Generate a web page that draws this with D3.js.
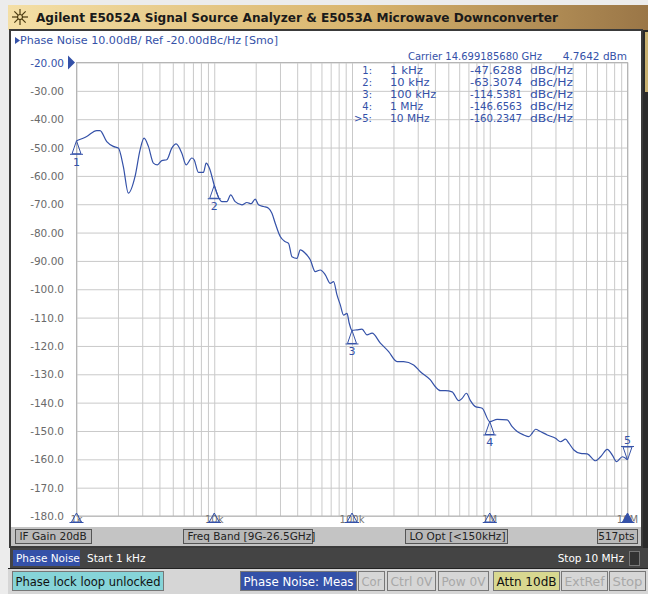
<!DOCTYPE html>
<meta charset="utf-8">
<style>
  body { margin: 0; background: #ececec; }
  text { font-family: "DejaVu Sans", sans-serif; }
</style>
<svg width="648" height="594"></svg>
<script src="https://d3js.org/d3.v7.min.js"></script>
<script>
// trace: offset frequency (Hz) and phase noise (dBc/Hz)
var freqs = [1000, 1186, 1402, 1482, 1658, 1851, 2013, 2188, 2379, 2661, 2894, 3094, 3326, 3615, 3866,
  4161, 4524, 4918, 5286, 5815, 6248, 6874, 7143, 7677, 8346, 8733, 9228, 10000, 10445, 11356,
  12350, 13156, 14190, 15870, 17260, 18540, 19830, 20960, 22790, 24770, 26220, 27710, 30130, 32760,
  34620, 36640, 39840, 42110, 45780, 49770, 54120, 58840, 63970, 69560, 73500, 77800, 82220, 86900,
  91960, 95500, 100000, 108700, 118200, 128500, 139800, 160600, 184500, 212300, 237100, 280300,
  313600, 370700, 403100, 438300, 476600, 533000, 595300, 630200, 677000, 723800, 787000, 880700,
  1000000, 1132000, 1338000, 1455000, 1582000, 1767000, 1920000, 2033000, 2148000, 2336000,
  2614000, 3003000, 3265000, 3549000, 3751000, 4079000, 4562000, 5104000, 5866000, 6377000,
  7133000, 7755000, 8332000, 9168000, 10000000];
var noise = [-47.6, -46.1, -44.0, -44.0, -47.9, -49.6, -50.2, -56.7, -66.1, -60.2, -50.8, -46.7, -49.6, -55.5, -56.1,
  -54.6, -54.3, -50.2, -48.7, -52.0, -56.1, -53.7, -54.3, -58.8, -58.8, -55.5, -57.3, -63.3, -66.1, -69.1,
  -69.1, -66.7, -69.1, -70.2, -69.4, -69.8, -68.2, -70.2, -70.8, -71.4, -73.2, -76.7, -81.4, -83.2,
  -83.8, -88.5, -89.1, -86.1, -87.3, -89.6, -93.8, -93.2, -94.9, -97.9, -97.3, -102.0, -105.5, -109.1,
  -108.5, -112.0, -114.5, -114.3, -114.1, -116.1, -115.5, -119.0, -122.0, -125.5, -125.5, -126.7,
  -129.1, -132.0, -134.4, -135.8, -135.8, -136.2, -139.3, -138.5, -136.7, -139.3, -141.4, -142.0,
  -146.7, -145.9, -146.1, -148.5, -150.2, -151.4, -152.0, -150.8, -149.4, -150.2,
  -151.4, -152.6, -153.8, -152.9, -154.3, -156.7, -157.9, -158.1, -160.5, -159.1,
  -156.5, -158.5, -160.8, -159.1, -160.2];

var markerFreqs = [1e3, 1e4, 1e5, 1e6, 1e7];
var markerVals = [-47.6288, -63.3074, -114.5381, -146.6563, -160.2347];
var markerNames = ["1 kHz", "10 kHz", "100 kHz", "1 MHz", "10 MHz"];
var xTickLabels = ["1k", "10k", "100k", "1M", "10M"];
var yTicks = d3.range(-180, -19, 10);

var svg = d3.select("svg");
var blue = "#3451a8";
var loc = d3.formatLocale({ decimal: ".", thousands: ",", grouping: [3], currency: ["", ""], minus: "-" });

// header band
var grad = svg.append("defs").append("linearGradient").attr("id", "hdr");
grad.append("stop").attr("offset", "0%").attr("stop-color", "#f4dfa6");
grad.append("stop").attr("offset", "55%").attr("stop-color", "#d9b56e");
grad.append("stop").attr("offset", "100%").attr("stop-color", "#9a7647");
svg.append("rect").attr("x", 8).attr("y", 5).attr("width", 640).attr("height", 25).attr("fill", "url(#hdr)");
// little sun icon
var sun = svg.append("g").attr("transform", "translate(20,17)").attr("stroke", "#4a3a10").attr("stroke-width", 1.2);
d3.range(8).forEach(function (i) {
  var a = i * Math.PI / 4;
  sun.append("line").attr("x1", 3 * Math.cos(a)).attr("y1", 3 * Math.sin(a))
    .attr("x2", 8 * Math.cos(a)).attr("y2", 8 * Math.sin(a));
});
sun.append("circle").attr("r", 2.5).attr("fill", "none");
svg.append("text").attr("x", 36).attr("y", 22).attr("font-size", 13).attr("font-weight", "bold")
  .attr("fill", "#1a1a1a").attr("textLength", 522).attr("lengthAdjust", "spacingAndGlyphs")
  .text("Agilent E5052A Signal Source Analyzer & E5053A Microwave Downconverter");

// right side dark strip
svg.append("rect").attr("x", 642).attr("y", 30).attr("width", 6).attr("height", 540).attr("fill", "#2a2a2a");
svg.append("rect").attr("x", 645).attr("y", 32).attr("width", 3).attr("height", 60).attr("fill", "#c8b070");

// main panel
svg.append("rect").attr("x", 10).attr("y", 30).attr("width", 632).attr("height", 517)
  .attr("fill", "#fff").attr("stroke", "#3a3a3a").attr("stroke-width", 2);

svg.append("path").attr("d", "M15,37 L20,40.5 L15,44 Z").attr("fill", blue);
svg.append("text").attr("x", 20).attr("y", 44).attr("font-size", 10.5).attr("fill", blue)
  .attr("textLength", 258).attr("lengthAdjust", "spacingAndGlyphs")
  .text("Phase Noise 10.00dB/ Ref -20.00dBc/Hz [Smo]");

var x = d3.scaleLog().domain([1e3, 1e7]).range([76.5, 627.5]);
var y = d3.scaleLinear().domain([-180, -20]).range([516, 62.5]);

// grid via axes
var gx = svg.append("g").attr("transform", "translate(0,516)")
  .call(d3.axisBottom(x).tickValues(x.ticks()).tickSize(-453.5).tickFormat(""));
gx.selectAll("line").attr("stroke", "#c9c9c9");
gx.select(".domain").remove();
var gy = svg.append("g").attr("transform", "translate(76.5,0)")
  .call(d3.axisLeft(y).tickValues(yTicks).tickSize(-551).tickFormat(""));
gy.selectAll("line").attr("stroke", "#c9c9c9");
gy.select(".domain").remove();
svg.append("rect").attr("x", 76.5).attr("y", 62.5).attr("width", 551).attr("height", 453.5)
  .attr("fill", "none").attr("stroke", "#b5b5b5");

// y labels
var fmt = loc.format(".4r");
svg.append("g").selectAll("text").data(yTicks).enter().append("text")
  .attr("x", 64).attr("y", function (d) { return y(d) + 4; })
  .attr("text-anchor", "end").attr("font-size", 10.5)
  .attr("fill", function (d) { return d === -20 ? blue : "#6a6a6a"; })
  .text(function (d) { return fmt(d); });
svg.append("path").attr("d", "M68,55.5 L75,62.5 L68,69.5 Z").attr("fill", blue);

// x labels with stimulus markers
svg.append("g").selectAll("text").data(markerFreqs).enter().append("text")
  .attr("x", function (d) { return x(d); }).attr("y", 523)
  .attr("text-anchor", "middle").attr("font-size", 10).attr("fill", "#777")
  .text(function (d, i) { return xTickLabels[i]; });
svg.append("g").selectAll("path").data(markerFreqs).enter().append("path")
  .attr("d", function (d) { var cx = x(d); return "M" + (cx - 5) + ",522 L" + cx + ",513 L" + (cx + 5) + ",522 Z M" + (cx - 7) + ",522.5 H" + (cx + 7); })
  .attr("fill", function (d, i) { return i === 4 ? blue : "none"; })
  .attr("stroke", blue).attr("stroke-width", 1);

// trace
var line = d3.line().curve(d3.curveMonotoneX)
  .x(function (d) { return x(d[0]); }).y(function (d) { return y(d[1]); });
svg.append("path").datum(d3.zip(freqs, noise)).attr("d", line)
  .attr("fill", "none").attr("stroke", blue).attr("stroke-width", 1.2);

// markers on trace
markerFreqs.forEach(function (f, i) {
  var cx = x(f), cy = y(markerVals[i]);
  var s = i < 4 ? 1 : -1;
  svg.append("path")
    .attr("d", "M" + (cx - 4.5) + "," + (cy + s * 13) + " L" + cx + "," + cy + " L" + (cx + 4.5) + "," + (cy + s * 13) + " Z M" + (cx - 6.5) + "," + (cy + s * 13.5) + " H" + (cx + 6.5))
    .attr("stroke", blue).attr("fill", "none").attr("stroke-width", 1);
  svg.append("text").attr("x", cx).attr("y", i < 4 ? cy + 25 : cy - 16).attr("text-anchor", "middle")
    .attr("font-size", 11).attr("fill", blue).text(i + 1);
});

// marker table
svg.append("text").attr("x", 408).attr("y", 60).attr("font-size", 10.5).attr("fill", blue)
  .attr("textLength", 134).attr("lengthAdjust", "spacingAndGlyphs").text("Carrier 14.699185680 GHz");
svg.append("text").attr("x", 627).attr("y", 60).attr("font-size", 10.5).attr("fill", blue)
  .attr("text-anchor", "end").text("4.7642 dBm");
var rows = svg.append("g").attr("font-family", "DejaVu Sans Mono").attr("font-size", 10).attr("fill", blue);
var vfmt = loc.format(".4f");
markerVals.forEach(function (v, i) {
  var ry = 74 + i * 12;
  rows.append("text").attr("x", 372).attr("y", ry).attr("text-anchor", "end").text((i === 4 ? ">" : "") + (i + 1) + ":");
  rows.append("text").attr("x", 390).attr("y", ry).attr("textLength", markerNames[i].length * 6.6)
    .attr("lengthAdjust", "spacingAndGlyphs").text(markerNames[i]);
  rows.append("text").attr("x", 522).attr("y", ry).attr("text-anchor", "end").attr("textLength", 52)
    .attr("lengthAdjust", "spacingAndGlyphs").text(vfmt(v));
  rows.append("text").attr("x", 530).attr("y", ry).attr("textLength", 43)
    .attr("lengthAdjust", "spacingAndGlyphs").text("dBc/Hz");
});

// softkey bar
svg.append("rect").attr("x", 11).attr("y", 527).attr("width", 630).attr("height", 19).attr("fill", "#c4c4c4");
function button(x0, y0, w, h, label, bg, fg, anchor) {
  svg.append("rect").attr("x", x0).attr("y", y0).attr("width", w).attr("height", h)
    .attr("fill", bg).attr("stroke", "#555").attr("stroke-width", 1);
  svg.append("text").attr("x", anchor === "end" ? x0 + w - 3 : x0 + 4).attr("y", y0 + h - 4)
    .attr("text-anchor", anchor === "end" ? "end" : "start")
    .attr("font-size", 10.5).attr("fill", fg).text(label);
}
button(15.5, 529.5, 76, 14, "IF Gain 20dB", "#b9b9b9", "#222");
button(183.5, 529.5, 129, 14, "Freq Band [9G-26.5GHz]", "#b9b9b9", "#222");
button(405.5, 529.5, 102, 14, "LO Opt [<150kHz]", "#b9b9b9", "#222");
button(597.5, 529.5, 40, 14, "517pts", "#b9b9b9", "#222", "end");

// channel status bar
svg.append("rect").attr("x", 10).attr("y", 548).attr("width", 638).attr("height", 20).attr("fill", "#444");
svg.append("rect").attr("x", 13).attr("y", 550).attr("width", 67).attr("height", 16).attr("fill", "#3451a8");
svg.append("text").attr("x", 16).attr("y", 562).attr("font-size", 10.5).attr("fill", "#fff").text("Phase Noise");
svg.append("text").attr("x", 87).attr("y", 562).attr("font-size", 10.5).attr("fill", "#fff").text("Start 1 kHz");
svg.append("text").attr("x", 624).attr("y", 562).attr("font-size", 10.5).attr("fill", "#fff").attr("text-anchor", "end").text("Stop 10 MHz");
svg.append("rect").attr("x", 629.5).attr("y", 551.5).attr("width", 10).attr("height", 14).attr("fill", "#333").attr("stroke", "#777");

// instrument status bar
svg.append("rect").attr("x", 8).attr("y", 568).attr("width", 640).attr("height", 26).attr("fill", "#d6d6d6");
svg.append("line").attr("x1", 8).attr("x2", 648).attr("y1", 568.5).attr("y2", 568.5).attr("stroke", "#222");
function status(x0, w, label, bg, fg) {
  svg.append("rect").attr("x", x0).attr("y", 571.5).attr("width", w).attr("height", 19)
    .attr("fill", bg).attr("stroke", "#777");
  svg.append("text").attr("x", x0 + 3).attr("y", 586).attr("font-size", 12).attr("fill", fg)
    .attr("textLength", w - 6).attr("lengthAdjust", "spacingAndGlyphs").text(label);
}
status(12.5, 151, "Phase lock loop unlocked", "#86d4d8", "#111");
status(240.5, 116, "Phase Noise: Meas", "#3451a8", "#fff");
status(358.5, 26, "Cor", "#d6d6d6", "#a8a8a8");
status(387.5, 48, "Ctrl  0V", "#d6d6d6", "#a8a8a8");
status(438.5, 50, "Pow  0V", "#d6d6d6", "#a8a8a8");
status(493.5, 66, "Attn 10dB", "#d8d890", "#111");
status(561.5, 46, "ExtRef", "#d6d6d6", "#a8a8a8");
status(609.5, 36, "Stop", "#d6d6d6", "#a8a8a8");
</script>
